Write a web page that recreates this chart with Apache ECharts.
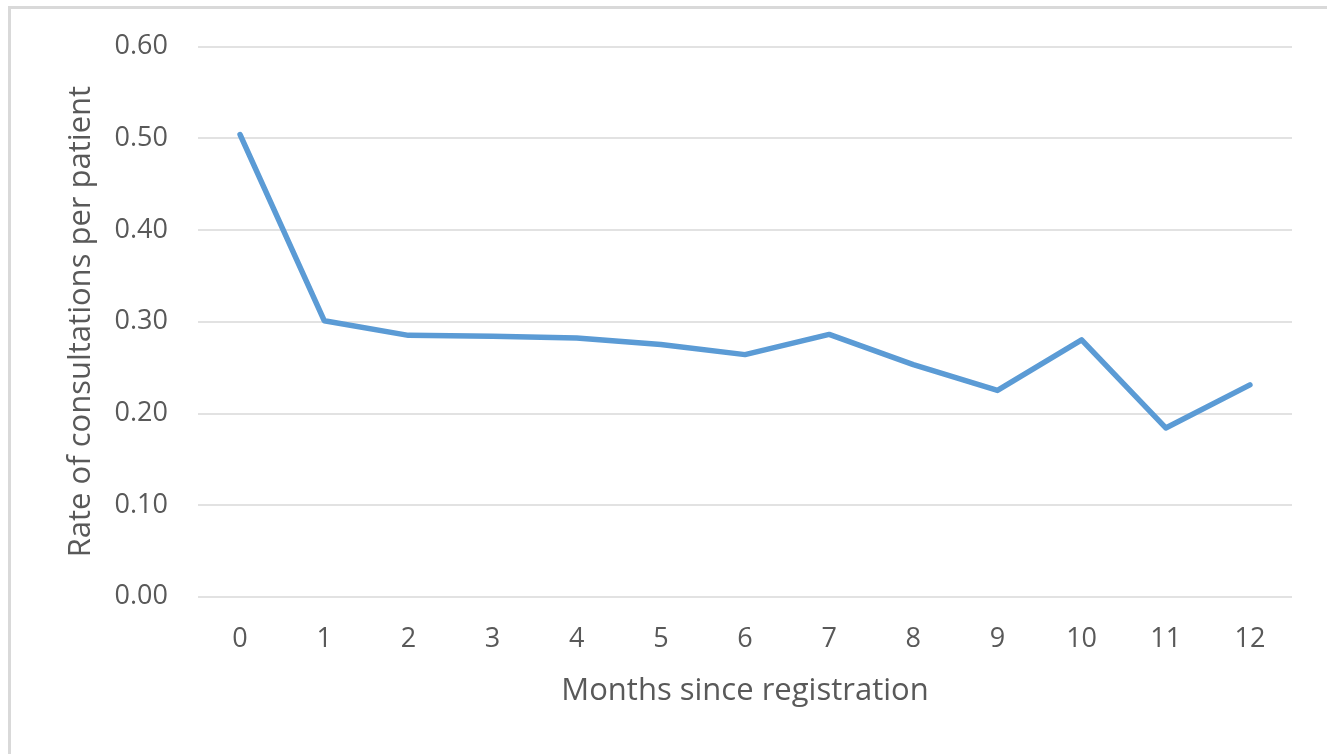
<!DOCTYPE html>
<html>
<head>
<meta charset="utf-8">
<script src="https://cdn.jsdelivr.net/npm/echarts@6/dist/echarts.min.js"></script>
<style>
  html, body { margin: 0; padding: 0; background: #fff; }
  #frame { position: absolute; left: 8px; top: 6px; width: 1330px; height: 760px;
           border-top: 3px solid #d9d9d9; border-left: 3px solid #d9d9d9; }
  #chart { position: absolute; left: 0; top: 0; width: 1327px; height: 754px; }
</style>
</head>
<body>
<div id="frame"></div>
<div id="chart"></div>
<script>
  const months = ['0', '1', '2', '3', '4', '5', '6', '7', '8', '9', '10', '11', '12'];
  const rates = [0.504, 0.301, 0.285, 0.284, 0.282, 0.275, 0.264, 0.286, 0.253, 0.225, 0.280, 0.184, 0.231];

  const textColor = '#595959';
  const font = 'Open Sans';

  const myChart = echarts.init(document.getElementById('chart'));
  const options = {
    animation: false,
    grid: { left: 198, right: 35, top: 46.5, bottom: 157.3, containLabel: false },
    xAxis: {
      type: 'category',
      data: months,
      boundaryGap: true,
      axisLine: { show: false },
      axisTick: { show: false },
      axisLabel: { color: textColor, fontFamily: font, fontSize: 27, margin: 29 },
      name: 'Months since registration',
      nameLocation: 'middle',
      nameGap: 79,
      nameTextStyle: { color: textColor, fontFamily: font, fontSize: 31 },
    },
    yAxis: {
      type: 'value',
      min: 0,
      max: 0.6,
      interval: 0.1,
      axisLine: { show: false },
      axisTick: { show: false },
      axisLabel: {
        color: textColor, fontFamily: font, fontSize: 27, margin: 30,
        formatter: v => v.toFixed(2),
      },
      splitLine: { lineStyle: { color: '#d9d9d9', width: 1.5 } },
      name: 'Rate of consultations per patient',
      nameLocation: 'middle',
      nameGap: 101,
      nameTextStyle: { color: textColor, fontFamily: font, fontSize: 31 },
    },
    series: [
      {
        type: 'line',
        data: rates,
        symbol: 'none',
        lineStyle: { color: '#5b9bd5', width: 5.5, cap: 'round', join: 'round' },
      },
    ],
  };
  myChart.setOption(options);
</script>
</body>
</html>
